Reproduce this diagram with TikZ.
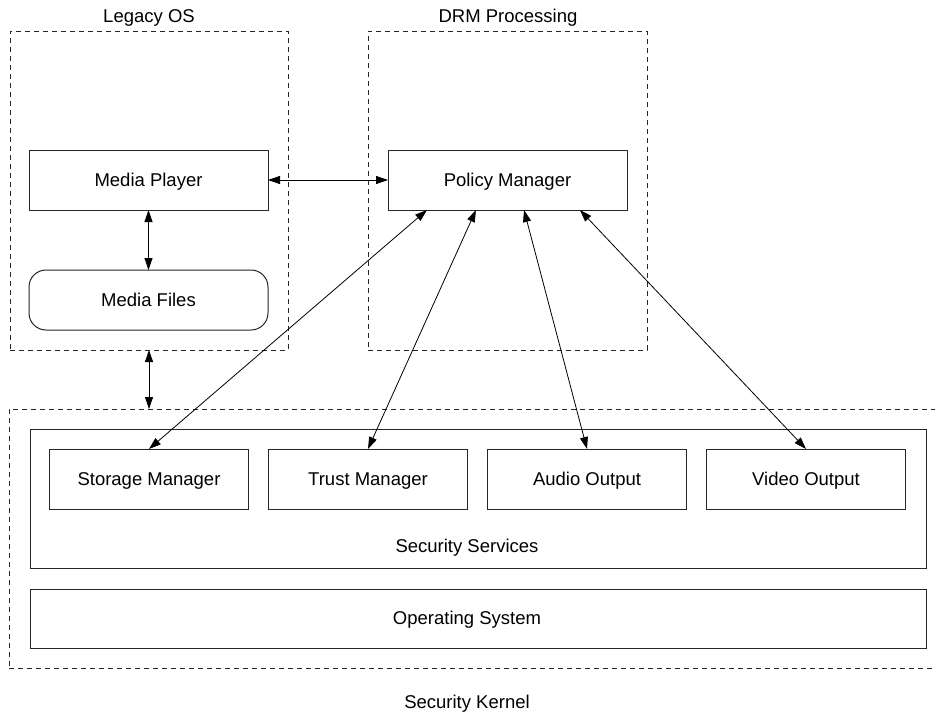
\documentclass[tikz,border=0pt]{standalone}
\usepackage{fontspec}
\setmainfont{Liberation Sans}
\usetikzlibrary{arrows.meta,calc}

\begin{document}
\begin{tikzpicture}[x=1pt,y=-1pt,
	every node/.style={font=\fontsize{18.5}{22}\selectfont,text height=13.5pt,text depth=0pt},
	box/.style={draw=black!85,line width=1pt,inner sep=0pt,outer sep=0pt,minimum width=239pt,minimum height=60pt},
	smallbox/.style={box,minimum width=199pt},
	group/.style={draw=black!85,line width=0.9pt,dash pattern=on 5pt off 4pt,inner sep=0pt,outer sep=0pt},
	arr/.style={line width=0.8pt,{Triangle[length=12pt,width=8pt]}-{Triangle[length=12pt,width=8pt]}}]
	
	%% page
	\clip (0,0) rectangle (935,715);
	
	%% groups
	\node [group,minimum width=278pt,minimum height=319pt] (legacy) at (149,190.5) {};
	\node (legacylabel) at (149,16) {Legacy OS};
	\node [group,minimum width=279pt,minimum height=319pt] (drm) at (507.5,190.5) {};
	\node (drmlabel) at (508,16) {DRM Processing};
	\node [group,minimum width=937pt,minimum height=259pt] (kernel) at (477.5,538.5) {};
	\node (kernellabel) at (467,702) {Security Kernel};
	
	%% boxes
	\node [box] (player) at (148.5,180) {Media Player};
	\node [box,rounded corners=17pt] (files) at (148.5,300) {Media Files};
	\node [box] (policy) at (507.5,180) {Policy Manager};
	\node [box,minimum width=896pt,minimum height=139pt] (services) at (478,498.5) {};
	\node (serviceslabel) at (467,546) {Security Services};
	\node [smallbox] (storage) at (149,479) {Storage Manager};
	\node [smallbox] (trust) at (368,479) {Trust Manager};
	\node [smallbox] (audio) at (587,479) {Audio Output};
	\node [smallbox] (video) at (806,479) {Video Output};
	\node [box,minimum width=896pt,minimum height=59pt] (os) at (478,618.5) {};
	\node (oslabel) at (467,618) {Operating System};
	
	%% links
	\draw [arr] (player.east) -- (policy.west);
	\draw [arr] (player.south) -- (files.north);
	\draw [arr] (legacy.south) -- (legacy.south |- kernel.north);
	\draw [arr] ($(policy.south west)!0.163!(policy.south east)$) -- (storage.north);
	\draw [arr] ($(policy.south west)!0.368!(policy.south east)$) -- (trust.north);
	\draw [arr] ($(policy.south west)!0.569!(policy.south east)$) -- (audio.north);
	\draw [arr] ($(policy.south west)!0.803!(policy.south east)$) -- (video.north);

\end{tikzpicture}
\end{document}
